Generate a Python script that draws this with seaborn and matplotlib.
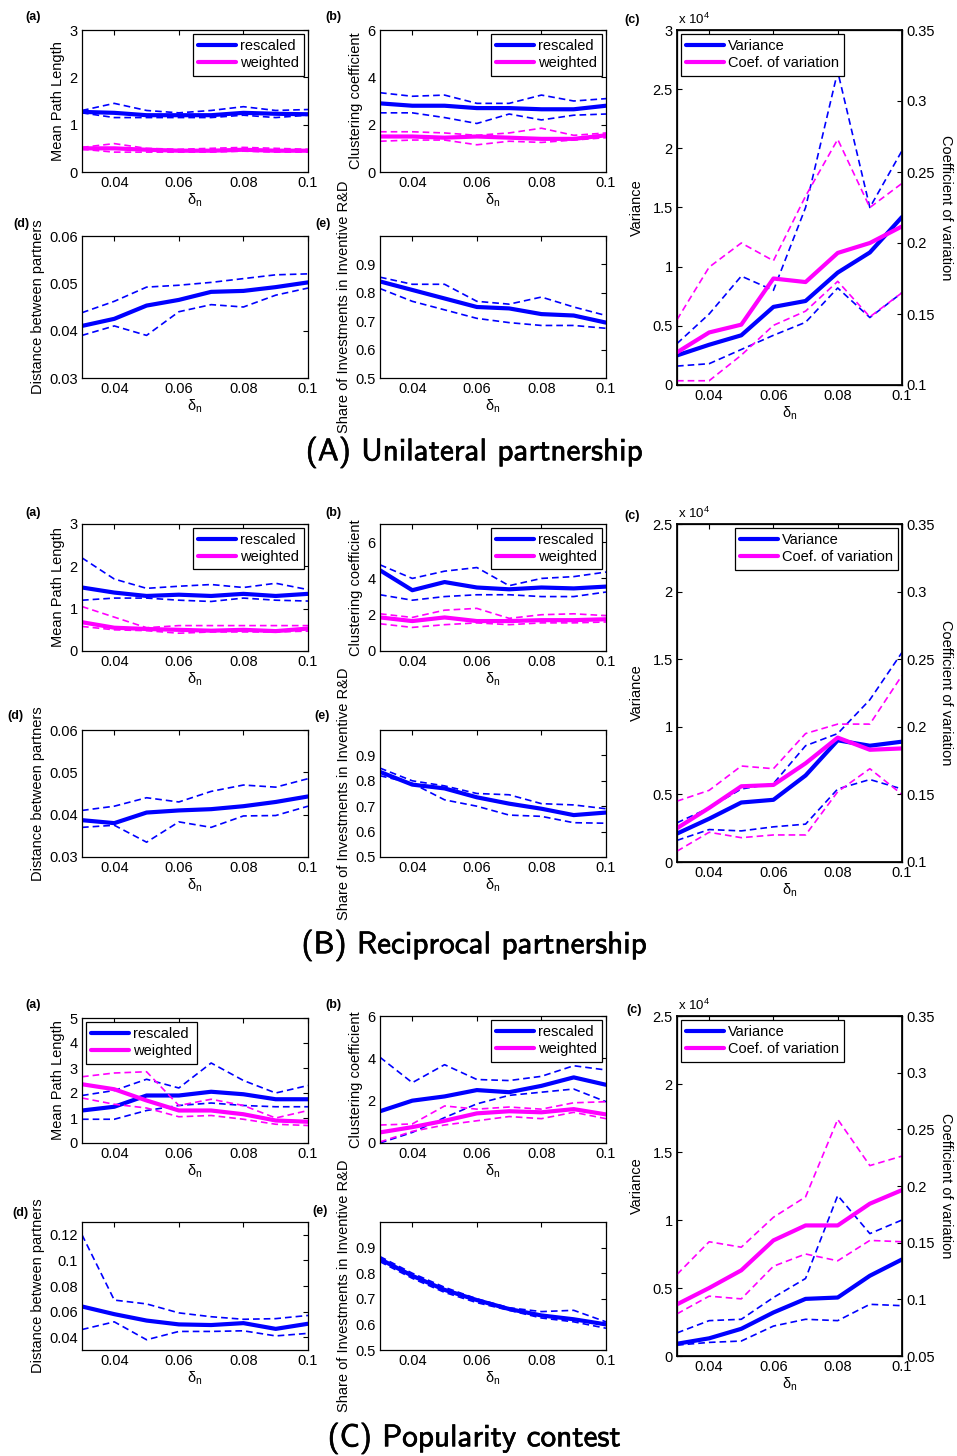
import matplotlib
matplotlib.use("Agg")
import matplotlib.pyplot as plt
import matplotlib.patheffects as pe
from matplotlib.lines import Line2D
from matplotlib.ticker import FuncFormatter
import seaborn as sns

sns.set_theme(style="white", rc={
    "axes.edgecolor": "black", "text.color": "black", "axes.labelcolor": "black",
    "xtick.color": "black", "ytick.color": "black",
})
plt.rcParams["font.family"] = ["Liberation Sans", "DejaVu Sans"]
plt.rcParams["mathtext.default"] = "regular"

# ---------------------------------------------------------------- data
x_delta = [0.03, 0.04, 0.05, 0.06, 0.07, 0.08, 0.09, 0.10]

# (A) Unilateral partnership
A_mpl_res_mean = [1.27, 1.25, 1.20, 1.20, 1.20, 1.25, 1.23, 1.22]
A_mpl_res_hi = [1.30, 1.45, 1.30, 1.25, 1.30, 1.38, 1.30, 1.32]
A_mpl_res_lo = [1.25, 1.15, 1.15, 1.15, 1.15, 1.20, 1.15, 1.20]
A_mpl_wgt_mean = [0.50, 0.50, 0.47, 0.45, 0.45, 0.47, 0.45, 0.45]
A_mpl_wgt_hi = [0.52, 0.60, 0.50, 0.48, 0.50, 0.52, 0.50, 0.48]
A_mpl_wgt_lo = [0.48, 0.42, 0.42, 0.42, 0.42, 0.44, 0.42, 0.42]
A_cc_res_mean = [2.90, 2.80, 2.80, 2.70, 2.70, 2.65, 2.65, 2.80]
A_cc_res_hi = [3.35, 3.20, 3.25, 2.90, 2.90, 3.25, 3.00, 3.10]
A_cc_res_lo = [2.50, 2.50, 2.30, 2.05, 2.45, 2.20, 2.40, 2.45]
A_cc_wgt_mean = [1.50, 1.50, 1.45, 1.50, 1.45, 1.40, 1.40, 1.55]
A_cc_wgt_hi = [1.70, 1.70, 1.65, 1.55, 1.65, 1.85, 1.55, 1.65]
A_cc_wgt_lo = [1.30, 1.35, 1.35, 1.15, 1.30, 1.25, 1.35, 1.45]
A_var_mean = [2500, 3400, 4200, 6600, 7100, 9500, 11200, 14200]
A_var_hi = [3500, 6000, 9200, 8000, 15000, 26500, 15000, 19800]
A_var_lo = [1600, 1800, 3000, 4200, 5300, 8200, 5700, 7800]
A_cv_mean = [0.123, 0.137, 0.1425, 0.175, 0.1725, 0.193, 0.200, 0.2117]
A_cv_hi = [0.146, 0.183, 0.200, 0.1875, 0.233, 0.273, 0.225, 0.242]
A_cv_lo = [0.103, 0.103, 0.121, 0.142, 0.152, 0.173, 0.148, 0.165]
A_dist_mean = [0.0410, 0.0425, 0.0453, 0.0465, 0.0482, 0.0484, 0.0492, 0.0502]
A_dist_hi = [0.0438, 0.0462, 0.0492, 0.0496, 0.0502, 0.0510, 0.0518, 0.0520]
A_dist_lo = [0.0390, 0.0410, 0.0390, 0.0440, 0.0455, 0.0450, 0.0475, 0.0490]
A_share_mean = [0.840, 0.810, 0.780, 0.750, 0.745, 0.725, 0.720, 0.695]
A_share_hi = [0.855, 0.830, 0.830, 0.770, 0.760, 0.785, 0.750, 0.720]
A_share_lo = [0.815, 0.770, 0.740, 0.710, 0.695, 0.685, 0.685, 0.675]

# (B) Reciprocal partnership
B_mpl_res_mean = [1.50, 1.38, 1.30, 1.33, 1.30, 1.35, 1.30, 1.35]
B_mpl_res_hi = [2.20, 1.70, 1.48, 1.53, 1.57, 1.50, 1.60, 1.45]
B_mpl_res_lo = [1.20, 1.25, 1.25, 1.20, 1.17, 1.25, 1.20, 1.18]
B_mpl_wgt_mean = [0.68, 0.55, 0.52, 0.50, 0.48, 0.50, 0.47, 0.53]
B_mpl_wgt_hi = [1.05, 0.80, 0.55, 0.60, 0.60, 0.60, 0.60, 0.60]
B_mpl_wgt_lo = [0.58, 0.50, 0.48, 0.42, 0.45, 0.45, 0.45, 0.47]
B_cc_res_mean = [4.45, 3.35, 3.80, 3.50, 3.40, 3.50, 3.45, 3.55]
B_cc_res_hi = [4.75, 4.00, 4.40, 4.60, 3.60, 4.00, 4.10, 4.35]
B_cc_res_lo = [3.10, 2.80, 3.00, 3.10, 3.10, 3.00, 3.00, 3.25]
B_cc_wgt_mean = [1.85, 1.65, 1.85, 1.65, 1.65, 1.70, 1.70, 1.75]
B_cc_wgt_hi = [2.05, 1.85, 2.25, 2.35, 1.80, 2.00, 2.05, 1.95]
B_cc_wgt_lo = [1.50, 1.30, 1.45, 1.55, 1.45, 1.55, 1.55, 1.60]
B_var_mean = [2100, 3200, 4400, 4600, 6400, 9000, 8600, 8900]
B_var_hi = [2900, 4000, 5400, 5800, 8600, 9500, 12000, 15500]
B_var_lo = [1600, 2400, 2300, 2600, 2800, 5400, 6100, 5400]
B_cv_mean = [0.125, 0.140, 0.156, 0.157, 0.173, 0.192, 0.183, 0.184]
B_cv_hi = [0.145, 0.153, 0.171, 0.169, 0.195, 0.202, 0.202, 0.238]
B_cv_lo = [0.108, 0.122, 0.118, 0.120, 0.120, 0.152, 0.169, 0.150]
B_dist_mean = [0.0387, 0.0380, 0.0405, 0.0410, 0.0413, 0.0420, 0.0430, 0.0443]
B_dist_hi = [0.0410, 0.0420, 0.0440, 0.0430, 0.0455, 0.0470, 0.0465, 0.0485]
B_dist_lo = [0.0370, 0.0375, 0.0335, 0.0383, 0.0370, 0.0397, 0.0398, 0.0420]
B_share_mean = [0.835, 0.785, 0.770, 0.735, 0.710, 0.690, 0.665, 0.675]
B_share_hi = [0.850, 0.800, 0.780, 0.750, 0.745, 0.710, 0.705, 0.690]
B_share_lo = [0.820, 0.790, 0.725, 0.700, 0.665, 0.660, 0.635, 0.633]

# (C) Popularity contest
C_mpl_res_mean = [1.30, 1.45, 1.90, 1.90, 2.05, 1.95, 1.75, 1.75]
C_mpl_res_hi = [1.90, 2.10, 2.55, 2.20, 3.20, 2.50, 2.00, 2.30]
C_mpl_res_lo = [0.95, 0.95, 1.30, 1.50, 1.60, 1.50, 1.45, 1.45]
C_mpl_wgt_mean = [2.35, 2.15, 1.70, 1.30, 1.30, 1.15, 0.90, 0.85]
C_mpl_wgt_hi = [2.65, 2.80, 2.85, 1.50, 1.75, 1.50, 1.00, 1.30]
C_mpl_wgt_lo = [1.80, 1.55, 1.40, 1.05, 1.10, 0.95, 0.75, 0.70]
C_cc_res_mean = [1.50, 2.00, 2.20, 2.50, 2.40, 2.70, 3.10, 2.75]
C_cc_res_hi = [4.05, 2.85, 3.70, 3.00, 2.95, 3.15, 3.65, 3.45]
C_cc_res_lo = [0.00, 0.50, 1.20, 1.85, 2.25, 2.40, 2.55, 1.95]
C_cc_wgt_mean = [0.50, 0.75, 1.05, 1.40, 1.50, 1.45, 1.60, 1.35]
C_cc_wgt_hi = [0.85, 0.90, 1.75, 1.60, 1.70, 1.60, 1.90, 1.95]
C_cc_wgt_lo = [0.05, 0.55, 0.85, 1.05, 1.25, 1.15, 1.45, 1.15]
C_var_mean = [900, 1300, 2000, 3200, 4200, 4300, 5900, 7100]
C_var_hi = [1700, 2600, 2700, 4300, 5700, 11800, 9000, 10000]
C_var_lo = [800, 1000, 1100, 2200, 2700, 2600, 3800, 3700]
C_cv_mean = [0.0956, 0.110, 0.1256, 0.152, 0.1652, 0.1652, 0.1844, 0.1964]
C_cv_hi = [0.122, 0.1508, 0.146, 0.1724, 0.1904, 0.2588, 0.218, 0.2264]
C_cv_lo = [0.0872, 0.1028, 0.1004, 0.1292, 0.140, 0.134, 0.152, 0.1508]
C_dist_mean = [0.0640, 0.0580, 0.0530, 0.0500, 0.0495, 0.0510, 0.0465, 0.0505]
C_dist_hi = [0.1200, 0.0690, 0.0660, 0.0590, 0.0560, 0.0540, 0.0545, 0.0570]
C_dist_lo = [0.0460, 0.0520, 0.0380, 0.0445, 0.0445, 0.0450, 0.0410, 0.0430]
C_share_mean = [0.855, 0.790, 0.735, 0.695, 0.660, 0.635, 0.620, 0.600]
C_share_hi = [0.865, 0.800, 0.745, 0.700, 0.665, 0.650, 0.655, 0.610]
C_share_lo = [0.845, 0.780, 0.725, 0.685, 0.655, 0.625, 0.610, 0.585]

section_titles = ["(A) Unilateral partnership", "(B) Reciprocal partnership",
                  "(C) Popularity contest"]

# ---------------------------------------------------------------- style
W, H = 957, 1456
BLUE = (0.0, 0.0, 1.0)
MAGENTA = (1.0, 0.0, 1.0)
SOLID_LW = 3.0
DASH_LW = 1.2
DASH = (0, (4.0, 2.4))
FS = 10.5

fig = plt.figure(figsize=(W / 100, H / 100), dpi=100)


def add_ax(l, t, r, b):
    return fig.add_axes([l / W, 1 - b / H, (r - l) / W, (b - t) / H])


def gfmt(v, _):
    return f"{v:g}"


def style_ax(ax, right=True):
    ax.tick_params(direction="in", length=3.5, width=0.8, top=True, right=right,
                   labelsize=FS, pad=3)
    for s in ax.spines.values():
        s.set_visible(True)
        s.set_color("black")
        s.set_linewidth(0.9)
    ax.set_xlim(0.03, 0.1)
    ax.set_xticks([0.04, 0.06, 0.08, 0.1])
    ax.xaxis.set_major_formatter(FuncFormatter(gfmt))
    ax.set_xlabel("δ$_n$", fontsize=FS, labelpad=1)


def draw_band(ax, mean, lo, hi, color):
    sns.lineplot(x=x_delta, y=lo, ax=ax, color=color, linewidth=DASH_LW,
                 linestyle=DASH, legend=False)
    sns.lineplot(x=x_delta, y=hi, ax=ax, color=color, linewidth=DASH_LW,
                 linestyle=DASH, legend=False)
    sns.lineplot(x=x_delta, y=mean, ax=ax, color=color, linewidth=SOLID_LW,
                 legend=False)


def proxy(color, label):
    return Line2D([], [], color=color, linewidth=SOLID_LW, label=label)


def legend(ax, handles, loc):
    lg = ax.legend(handles=handles, loc=loc, fontsize=FS, frameon=True,
                   fancybox=False, edgecolor="black", framealpha=1,
                   handlelength=2.6, handletextpad=0.3, labelspacing=0.25,
                   borderpad=0.35, borderaxespad=0.25)
    lg.get_frame().set_linewidth(0.9)
    lg.set_zorder(10)
    return lg


def panel_label(px, py, s):
    fig.text(px / W, 1 - py / H, s, fontsize=9, fontweight="bold",
             ha="center", va="center")


sections = [
    dict(
        title=section_titles[0], title_y=452,
        mpl=(A_mpl_res_mean, A_mpl_res_lo, A_mpl_res_hi,
             A_mpl_wgt_mean, A_mpl_wgt_lo, A_mpl_wgt_hi),
        cc=(A_cc_res_mean, A_cc_res_lo, A_cc_res_hi,
            A_cc_wgt_mean, A_cc_wgt_lo, A_cc_wgt_hi),
        var=(A_var_mean, A_var_lo, A_var_hi), cv=(A_cv_mean, A_cv_lo, A_cv_hi),
        dist=(A_dist_mean, A_dist_lo, A_dist_hi),
        share=(A_share_mean, A_share_lo, A_share_hi),
        box_a=(82, 30, 308, 172), box_b=(380, 30, 606, 172),
        box_c=(677, 30, 902, 385), box_d=(82, 236, 308, 378),
        box_e=(380, 236, 606, 378),
        mpl_lim=(0, 3), mpl_ticks=[0, 1, 2, 3], mpl_loc="upper right",
        cc_lim=(0, 6), cc_ticks=[0, 2, 4, 6], cc_loc="upper right",
        var_lim=(0, 30000), var_ticks=[0, 5000, 10000, 15000, 20000, 25000, 30000],
        cv_lim=(0.1, 0.35), cv_ticks=[0.1, 0.15, 0.2, 0.25, 0.3, 0.35],
        c_loc="upper left",
        dist_lim=(0.03, 0.06), dist_ticks=[0.03, 0.04, 0.05, 0.06],
        labels=[(33, 17), (333, 17), (632, 20), (21, 224), (323, 224)],
    ),
    dict(
        title=section_titles[1], title_y=945,
        mpl=(B_mpl_res_mean, B_mpl_res_lo, B_mpl_res_hi,
             B_mpl_wgt_mean, B_mpl_wgt_lo, B_mpl_wgt_hi),
        cc=(B_cc_res_mean, B_cc_res_lo, B_cc_res_hi,
            B_cc_wgt_mean, B_cc_wgt_lo, B_cc_wgt_hi),
        var=(B_var_mean, B_var_lo, B_var_hi), cv=(B_cv_mean, B_cv_lo, B_cv_hi),
        dist=(B_dist_mean, B_dist_lo, B_dist_hi),
        share=(B_share_mean, B_share_lo, B_share_hi),
        box_a=(82, 524, 308, 651), box_b=(380, 524, 606, 651),
        box_c=(677, 524, 902, 862), box_d=(82, 730, 308, 857),
        box_e=(380, 730, 606, 857),
        mpl_lim=(0, 3), mpl_ticks=[0, 1, 2, 3], mpl_loc="upper right",
        cc_lim=(0, 7), cc_ticks=[0, 2, 4, 6], cc_loc="upper right",
        var_lim=(0, 25000), var_ticks=[0, 5000, 10000, 15000, 20000, 25000],
        cv_lim=(0.1, 0.35), cv_ticks=[0.1, 0.15, 0.2, 0.25, 0.3, 0.35],
        c_loc="upper right",
        dist_lim=(0.03, 0.06), dist_ticks=[0.03, 0.04, 0.05, 0.06],
        labels=[(33, 513), (333, 513), (632, 516), (15, 716), (322, 716)],
    ),
    dict(
        title=section_titles[2], title_y=1438,
        mpl=(C_mpl_res_mean, C_mpl_res_lo, C_mpl_res_hi,
             C_mpl_wgt_mean, C_mpl_wgt_lo, C_mpl_wgt_hi),
        cc=(C_cc_res_mean, C_cc_res_lo, C_cc_res_hi,
            C_cc_wgt_mean, C_cc_wgt_lo, C_cc_wgt_hi),
        var=(C_var_mean, C_var_lo, C_var_hi), cv=(C_cv_mean, C_cv_lo, C_cv_hi),
        dist=(C_dist_mean, C_dist_lo, C_dist_hi),
        share=(C_share_mean, C_share_lo, C_share_hi),
        box_a=(82, 1018, 308, 1143), box_b=(380, 1016, 606, 1143),
        box_c=(677, 1016, 902, 1356), box_d=(82, 1222, 308, 1350),
        box_e=(380, 1222, 606, 1350),
        mpl_lim=(0, 5), mpl_ticks=[0, 1, 2, 3, 4, 5], mpl_loc="upper left",
        cc_lim=(0, 6), cc_ticks=[0, 2, 4, 6], cc_loc="upper right",
        var_lim=(0, 25000), var_ticks=[0, 5000, 10000, 15000, 20000, 25000],
        cv_lim=(0.05, 0.35), cv_ticks=[0.05, 0.1, 0.15, 0.2, 0.25, 0.3, 0.35],
        c_loc="upper left",
        dist_lim=(0.03, 0.13), dist_ticks=[0.04, 0.06, 0.08, 0.1, 0.12],
        labels=[(33, 1005), (333, 1005), (634, 1010), (20, 1213), (320, 1211)],
    ),
]

for sec in sections:
    # (a) mean path length
    ax = add_ax(*sec["box_a"])
    m = sec["mpl"]
    draw_band(ax, m[0], m[1], m[2], BLUE)
    draw_band(ax, m[3], m[4], m[5], MAGENTA)
    style_ax(ax)
    ax.set_ylim(*sec["mpl_lim"])
    ax.set_yticks(sec["mpl_ticks"])
    ax.yaxis.set_major_formatter(FuncFormatter(gfmt))
    ax.set_ylabel("Mean Path Length", fontsize=FS, labelpad=3)
    legend(ax, [proxy(BLUE, "rescaled"), proxy(MAGENTA, "weighted")], sec["mpl_loc"])

    # (b) clustering coefficient
    ax = add_ax(*sec["box_b"])
    m = sec["cc"]
    draw_band(ax, m[0], m[1], m[2], BLUE)
    draw_band(ax, m[3], m[4], m[5], MAGENTA)
    style_ax(ax)
    ax.set_ylim(*sec["cc_lim"])
    ax.set_yticks(sec["cc_ticks"])
    ax.yaxis.set_major_formatter(FuncFormatter(gfmt))
    ax.set_ylabel("Clustering coefficient", fontsize=FS, labelpad=3)
    legend(ax, [proxy(BLUE, "rescaled"), proxy(MAGENTA, "weighted")], sec["cc_loc"])

    # (c) variance and coefficient of variation on twin axes
    ax = add_ax(*sec["box_c"])
    v = sec["var"]
    draw_band(ax, v[0], v[1], v[2], BLUE)
    style_ax(ax, right=False)
    ax.set_ylim(*sec["var_lim"])
    ax.set_yticks(sec["var_ticks"])
    ax.yaxis.set_major_formatter(FuncFormatter(lambda val, _: f"{val / 1e4:g}"))
    ax.set_ylabel("Variance", fontsize=FS, labelpad=6)
    ax2 = ax.twinx()
    c = sec["cv"]
    draw_band(ax2, c[0], c[1], c[2], MAGENTA)
    ax2.set_ylim(*sec["cv_lim"])
    ax2.set_yticks(sec["cv_ticks"])
    ax2.yaxis.set_major_formatter(FuncFormatter(gfmt))
    ax2.tick_params(direction="in", length=3.5, width=0.8, right=True, left=False,
                    labelsize=FS, pad=3)
    ax2.set_ylabel("Coefficient of variation", fontsize=FS, rotation=-90,
                   va="bottom", labelpad=3)
    legend(ax2, [proxy(BLUE, "Variance"), proxy(MAGENTA, "Coef. of variation")],
           sec["c_loc"])
    l, t, r, b = sec["box_c"]
    fig.text((l + 1) / W, 1 - (t - 11) / H, "x 10$^4$", fontsize=9.5,
             ha="left", va="center")

    # (d) distance between partners
    ax = add_ax(*sec["box_d"])
    d = sec["dist"]
    draw_band(ax, d[0], d[1], d[2], BLUE)
    style_ax(ax)
    ax.set_ylim(*sec["dist_lim"])
    ax.set_yticks(sec["dist_ticks"])
    ax.yaxis.set_major_formatter(FuncFormatter(gfmt))
    ax.set_ylabel("Distance between partners", fontsize=FS, labelpad=3)

    # (e) share of investments in inventive R&D
    ax = add_ax(*sec["box_e"])
    s = sec["share"]
    draw_band(ax, s[0], s[1], s[2], BLUE)
    style_ax(ax)
    ax.set_ylim(0.5, 1.0)
    ax.set_yticks([0.5, 0.6, 0.7, 0.8, 0.9])
    ax.yaxis.set_major_formatter(FuncFormatter(gfmt))
    ax.set_ylabel("Share of Investments in Inventive R&D", fontsize=FS, labelpad=3)

    for (px, py), lab in zip(sec["labels"], ["(a)", "(b)", "(c)", "(d)", "(e)"]):
        panel_label(px, py, lab)

    fig.text(474 / W, 1 - sec["title_y"] / H, sec["title"], fontsize=22.5,
             family=["cmss10", "DejaVu Sans"], ha="center", va="center",
             path_effects=[pe.withStroke(linewidth=0.45, foreground="black")])

fig.savefig("out.png", dpi=100)
